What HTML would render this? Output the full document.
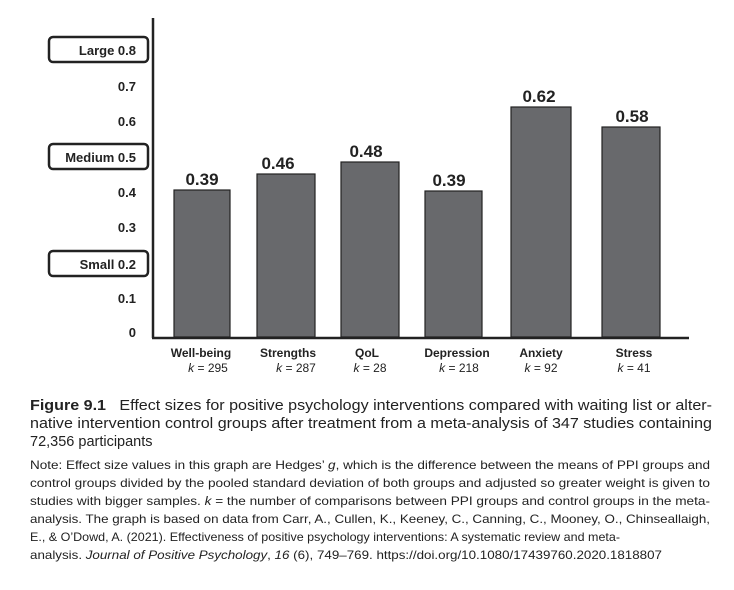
<!DOCTYPE html>
<html><head><meta charset="utf-8"><style>
body{margin:0;background:#fff;width:734px;height:590px;overflow:hidden;font-family:"Liberation Sans",Arial,sans-serif;}
</style></head><body>
<svg width="734" height="590" xmlns="http://www.w3.org/2000/svg" style="position:absolute;left:0;top:0">
<g font-family="Liberation Sans, Arial, sans-serif" font-weight="bold" fill="#222">
<rect x="49" y="37" width="99" height="25" rx="4" fill="none" stroke="#222" stroke-width="2.5"/>
<rect x="49" y="144" width="99" height="25" rx="4" fill="none" stroke="#222" stroke-width="2.5"/>
<rect x="49" y="251" width="99" height="25" rx="4" fill="none" stroke="#222" stroke-width="2.5"/>
<g font-size="13" text-anchor="end">
<text x="136" y="55">Large 0.8</text>
<text x="136" y="91">0.7</text>
<text x="136" y="126">0.6</text>
<text x="136" y="162">Medium 0.5</text>
<text x="136" y="197">0.4</text>
<text x="136" y="232">0.3</text>
<text x="136" y="269">Small 0.2</text>
<text x="136" y="303">0.1</text>
<text x="136" y="337">0</text>
</g>
</g>
<g fill="#68696c" stroke="#222" stroke-width="1.2">
<rect x="174" y="190" width="56" height="147"/>
<rect x="257" y="174" width="58" height="163"/>
<rect x="341" y="162" width="58" height="175"/>
<rect x="425" y="191" width="57" height="146"/>
<rect x="511" y="107" width="60" height="230"/>
<rect x="602" y="127" width="58" height="210"/>
</g>
<line x1="153" y1="18" x2="153" y2="338" stroke="#222" stroke-width="2.5"/>
<line x1="152" y1="338" x2="689" y2="338" stroke="#222" stroke-width="2.5"/>
<g font-family="Liberation Sans, Arial, sans-serif" font-weight="bold" font-size="17" fill="#222" text-anchor="middle">
<text x="202" y="185">0.39</text>
<text x="278" y="169">0.46</text>
<text x="366" y="157">0.48</text>
<text x="449" y="186">0.39</text>
<text x="539" y="102">0.62</text>
<text x="632" y="122">0.58</text>
</g>
<g font-family="Liberation Sans, Arial, sans-serif" font-size="12" fill="#222" text-anchor="middle">
<g font-weight="bold">
<text x="201" y="357">Well-being</text>
<text x="288" y="357">Strengths</text>
<text x="367" y="357">QoL</text>
<text x="457" y="357">Depression</text>
<text x="541" y="357">Anxiety</text>
<text x="634" y="357">Stress</text>
</g>
<text x="208" y="372"><tspan font-style="italic">k</tspan> = 295</text>
<text x="296" y="372"><tspan font-style="italic">k</tspan> = 287</text>
<text x="370" y="372"><tspan font-style="italic">k</tspan> = 28</text>
<text x="459" y="372"><tspan font-style="italic">k</tspan> = 218</text>
<text x="541" y="372"><tspan font-style="italic">k</tspan> = 92</text>
<text x="634" y="372"><tspan font-style="italic">k</tspan> = 41</text>
</g>
<g font-family="Liberation Sans, Arial, sans-serif" fill="#222">
<text x="30" y="410" font-size="14.5" textLength="682" lengthAdjust="spacingAndGlyphs"><tspan font-weight="bold">Figure 9.1</tspan>&#160;&#160;&#160;Effect sizes for positive psychology interventions compared with waiting list or alter-</text>
<text x="30" y="428" font-size="14.5" textLength="682" lengthAdjust="spacingAndGlyphs">native intervention control groups after treatment from a meta-analysis of 347 studies containing</text>
<text x="30" y="446" font-size="14.5">72,356 participants</text>
<g font-size="12">
<text x="30" y="469" textLength="680" lengthAdjust="spacingAndGlyphs">Note: Effect size values in this graph are Hedges’ <tspan font-style="italic">g</tspan>, which is the difference between the means of PPI groups and</text>
<text x="30" y="487" textLength="680" lengthAdjust="spacingAndGlyphs">control groups divided by the pooled standard deviation of both groups and adjusted so greater weight is given to</text>
<text x="30" y="505" textLength="680" lengthAdjust="spacingAndGlyphs">studies with bigger samples. <tspan font-style="italic">k</tspan> = the number of comparisons between PPI groups and control groups in the meta-</text>
<text x="30" y="523" textLength="680" lengthAdjust="spacingAndGlyphs">analysis. The graph is based on data from Carr, A., Cullen, K., Keeney, C., Canning, C., Mooney, O., Chinseallaigh,</text>
<text x="30" y="541" textLength="590" lengthAdjust="spacingAndGlyphs">E., &amp; O’Dowd, A. (2021). Effectiveness of positive psychology interventions: A systematic review and meta-</text>
<text x="30" y="559" textLength="632" lengthAdjust="spacingAndGlyphs">analysis. <tspan font-style="italic">Journal of Positive Psychology</tspan>, <tspan font-style="italic">16</tspan> (6), 749–769. https://doi.org/10.1080/17439760.2020.1818807</text>
</g>
</g>
</svg>
</body></html>
